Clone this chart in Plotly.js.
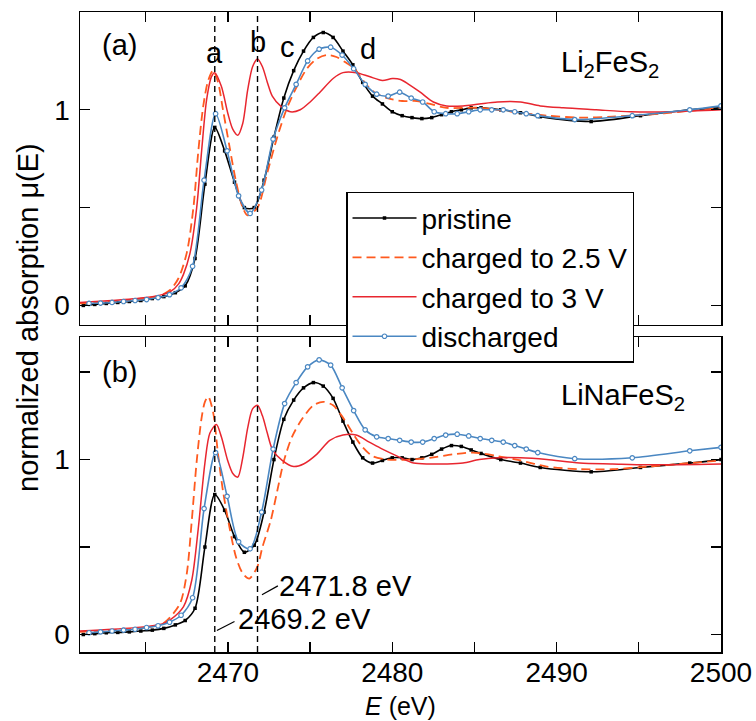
<!DOCTYPE html>
<html>
<head>
<meta charset="utf-8">
<script src="https://cdn.plot.ly/plotly-3.0.1.min.js"></script>
<style>html,body{margin:0;padding:0;background:#fff}#chart{width:756px;height:721px}</style>
</head>
<body>
<div id="chart"></div>
<script>
// ---------- data ----------
const seriesNames = ["pristine", "charged to 2.5 V", "charged to 3 V", "discharged"];
const markerEnergies = [2469.2, 2471.8];           // dashed guide lines a, b
const peakLabels = ["a", "b", "c", "d"];
const peakLabelEnergies = [2469.2, 2471.8, 2473.65, 2478.5];
const xTickVals = [2465, 2470, 2475, 2480, 2485, 2490, 2495, 2500];
const xTickText = ["", "2470", "", "2480", "", "2490", "", "2500"];

// pristine (black squares) energy grid
const E_pristine = [2461.2,2461.9,2462.6,2463.3,2464.0,2464.7,2465.4,2466.1,2466.8,
  2467.4,2468.0,2468.6,2469.2,2469.8,2470.4,2471.0,2471.6,2472.2,2472.8,
  2473.4,2474.0,2474.6,2475.2,2475.8,2476.4,2477.0,2477.6,2478.2,2478.8,
  2479.4,2480.0,2480.6,2481.2,2481.8,2482.4,2483.0,2483.6,2484.2,2484.8,
  2485.4,2486.6,2487.8,2489.0,2492.1,2495.1,2498.1,2500.0];
const mu_a_pristine = [0.0,0.005,0.01,0.015,0.02,0.025,0.035,0.045,0.065,
  0.10,0.24,0.62,0.91,0.79,0.63,0.50,0.50,0.64,0.86,
  1.06,1.20,1.30,1.37,1.395,1.37,1.30,1.23,1.14,1.07,
  1.03,0.99,0.97,0.96,0.955,0.96,0.975,0.99,1.0,1.01,
  1.01,1.0,0.985,0.965,0.94,0.97,1.0,1.01];
const mu_b_pristine = [0.0,0.005,0.01,0.012,0.015,0.02,0.025,0.035,0.055,
  0.08,0.15,0.50,0.80,0.71,0.56,0.47,0.51,0.70,1.0,
  1.23,1.34,1.41,1.44,1.42,1.35,1.22,1.10,1.01,0.98,
  0.995,1.01,1.01,1.0,1.01,1.03,1.06,1.08,1.075,1.055,
  1.035,1.0,0.98,0.955,0.93,0.955,0.98,1.0];

// discharged (blue circles) energy grid
const E_discharged = [2461.55,2462.25,2462.95,2463.65,2464.35,2465.05,2465.75,2466.45,2467.15,2467.85,
  2468.55,2469.25,2469.95,2470.65,2471.35,2472.05,2472.75,2473.45,2474.15,2474.85,
  2475.55,2476.25,2476.95,2477.65,2478.35,2479.05,2479.75,2480.45,2481.15,2481.85,
  2482.55,2483.25,2483.95,2484.65,2485.35,2486.05,2486.75,2487.45,2488.15,2488.85,
  2491.1,2494.6,2498.1,2500.0];
const mu_a_discharged = [0.01,0.012,0.015,0.02,0.025,0.03,0.04,0.055,0.09,0.20,
  0.64,0.98,0.79,0.56,0.47,0.59,0.85,1.01,1.13,1.25,
  1.31,1.32,1.28,1.21,1.13,1.08,1.07,1.09,1.06,1.04,
  0.99,0.98,0.98,0.99,1.0,1.0,1.0,0.99,0.98,0.97,
  0.95,0.97,1.0,1.02];
const mu_b_discharged = [0.01,0.015,0.02,0.025,0.03,0.04,0.05,0.07,0.11,0.21,
  0.72,1.04,0.79,0.53,0.49,0.70,1.06,1.32,1.44,1.53,
  1.57,1.54,1.41,1.28,1.17,1.13,1.12,1.11,1.10,1.10,
  1.12,1.14,1.145,1.135,1.12,1.11,1.10,1.08,1.06,1.04,
  1.005,1.01,1.05,1.07];

// charged to 2.5 V (orange dashed)
const E_a_c25 = [2461.0,2463.0,2465.0,2466.0,2466.5,2467.0,2467.5,2467.9,2468.2,2468.5,2468.8,2469.1,2469.4,2469.7,
  2470.1,2470.5,2470.9,2471.2,2471.8,2472.4,2473.0,2473.6,2474.2,2474.8,2475.4,2476.0,2476.6,2477.2,2477.7,
  2478.3,2478.9,2479.7,2480.6,2481.5,2482.3,2483.3,2485.3,2487.3,2489.4,2491.4,2493.4,2495.5,2497.5,2500.0];
const mu_a_c25 = [0.01,0.02,0.035,0.055,0.08,0.14,0.27,0.50,0.79,1.02,1.15,1.20,1.14,1.00,
  0.81,0.63,0.50,0.46,0.50,0.68,0.86,1.01,1.12,1.21,1.26,1.28,1.27,1.24,1.21,
  1.14,1.09,1.06,1.045,1.045,1.03,1.01,1.01,0.99,0.97,0.96,0.965,0.975,0.99,1.01];
const E_b_c25 = [2461.0,2463.0,2465.0,2466.0,2466.5,2467.1,2467.5,2467.8,2468.1,2468.4,2468.6,2468.8,2469.1,2469.4,
  2469.7,2470.1,2470.5,2470.9,2471.3,2471.8,2472.1,2472.6,2473.0,2473.4,2473.9,2474.5,2475.2,2475.8,2476.4,
  2477.0,2477.6,2478.2,2478.8,2479.7,2481.0,2482.3,2483.7,2484.9,2486.4,2487.8,2489.4,2491.4,2493.4,2495.5,2497.5,2500.0];
const mu_b_c25 = [0.015,0.025,0.04,0.06,0.10,0.18,0.35,0.65,0.99,1.24,1.33,1.36,1.27,1.03,
  0.82,0.61,0.44,0.35,0.32,0.39,0.50,0.65,0.82,0.99,1.13,1.23,1.31,1.33,1.31,
  1.24,1.15,1.07,1.02,1.0,1.0,1.01,1.03,1.04,1.02,0.995,0.96,0.945,0.945,0.96,0.975,0.995];

// charged to 3 V (red solid)
const E_a_c3 = [2461.0,2463.0,2465.0,2466.0,2466.5,2467.0,2467.3,2467.7,2468.1,2468.4,2468.7,2469.0,2469.2,2469.6,
  2470.0,2470.3,2470.6,2470.9,2471.2,2471.5,2471.8,2472.1,2472.4,2472.7,2473.2,2473.8,2474.4,2475.0,2475.6,
  2476.4,2477.0,2477.8,2478.6,2479.4,2480.0,2480.5,2481.0,2481.7,2482.5,2483.3,2484.3,2485.3,2486.4,2487.8,
  2489.0,2490.4,2492.4,2494.5,2497.0,2500.0];
const mu_a_c3 = [0.015,0.025,0.04,0.055,0.07,0.11,0.16,0.27,0.50,0.79,1.05,1.17,1.19,1.12,
  0.98,0.90,0.87,0.93,1.10,1.22,1.26,1.22,1.14,1.07,1.02,0.99,1.0,1.04,1.09,
  1.16,1.19,1.19,1.17,1.15,1.16,1.155,1.13,1.09,1.04,1.02,1.02,1.03,1.04,1.04,
  1.02,1.01,1.0,0.99,0.99,1.0];
const E_b_c3 = [2461.0,2463.0,2465.0,2466.0,2466.5,2467.3,2467.8,2468.2,2468.6,2468.9,2469.3,2469.6,2470.0,2470.3,
  2470.6,2470.9,2471.2,2471.5,2471.8,2472.1,2472.4,2472.7,2473.3,2474.0,2474.6,2475.4,2476.2,2477.0,2477.8,
  2478.6,2479.4,2480.3,2481.3,2482.3,2483.3,2484.3,2485.3,2486.4,2487.8,2489.4,2491.4,2493.4,2495.5,2500.0];
const mu_b_c3 = [0.02,0.03,0.045,0.06,0.085,0.16,0.31,0.61,0.98,1.15,1.20,1.13,0.99,0.92,
  0.90,1.01,1.18,1.29,1.31,1.25,1.15,1.06,0.995,0.96,0.975,1.03,1.11,1.14,1.14,
  1.10,1.06,1.02,0.98,0.975,0.975,0.98,1.0,1.01,1.01,1.0,0.98,0.975,0.97,0.975];

// ---------- styling ----------
const FONT = "Liberation Sans, Arial, Helvetica, sans-serif";
const C_BLACK = "#000000", C_ORANGE = "#ff5a1f", C_RED = "#e8262f", C_BLUE = "#4a87c2";

function mk(E, mu, idx, panel) {
  const xa = panel === "a" ? "x2" : "x";
  const ya = panel === "a" ? "y2" : "y";
  const base = {x: E, y: mu, xaxis: xa, yaxis: ya, name: seriesNames[idx],
    showlegend: panel === "a", legendrank: idx + 1, hoverinfo: "skip"};
  if (idx === 0) return Object.assign(base, {mode: "lines+markers",
    line: {color: C_BLACK, width: 1.6, shape: "spline", smoothing: 0.8},
    marker: {symbol: "square", size: 3.5, color: C_BLACK}});
  if (idx === 1) return Object.assign(base, {mode: "lines",
    line: {color: C_ORANGE, width: 1.8, dash: "9px,5px", shape: "spline", smoothing: 0.8}});
  if (idx === 2) return Object.assign(base, {mode: "lines",
    line: {color: C_RED, width: 1.5, shape: "spline", smoothing: 0.8}});
  return Object.assign(base, {mode: "lines+markers",
    line: {color: C_BLUE, width: 1.6, shape: "spline", smoothing: 0.8},
    marker: {symbol: "circle", size: 4.5, color: "#ffffff", line: {color: C_BLUE, width: 1.2}}});
}

const traces = [
  mk(E_pristine, mu_a_pristine, 0, "a"),
  mk(E_a_c25, mu_a_c25, 1, "a"),
  mk(E_a_c3, mu_a_c3, 2, "a"),
  mk(E_discharged, mu_a_discharged, 3, "a"),
  mk(E_pristine, mu_b_pristine, 0, "b"),
  mk(E_b_c25, mu_b_c25, 1, "b"),
  mk(E_b_c3, mu_b_c3, 2, "b"),
  mk(E_discharged, mu_b_discharged, 3, "b")
];

const axisCommon = {showline: true, linecolor: "#000", linewidth: 1.5, mirror: "allticks",
  ticks: "inside", ticklen: 10, tickwidth: 1.3, tickcolor: "#000", showgrid: false, zeroline: false,
  tickfont: {family: FONT, size: 28, color: "#000"}};

const shapes = [];
markerEnergies.forEach(e => {
  shapes.push({type: "line", xref: "x", yref: "paper", x0: e, x1: e, y0: 0, y1: 1,
    line: {color: "#000", width: 1.4, dash: "6px,4px"}});
});
// leader lines for the energy labels (panel b)
shapes.push({type: "line", xref: "x", yref: "y", x0: markerEnergies[0] + 0.13, y0: 0.023,
  x1: markerEnergies[0] + 1.2, y1: 0.074, line: {color: "#000", width: 1.2}});
shapes.push({type: "line", xref: "x", yref: "y", x0: markerEnergies[1] + 0.27, y0: 0.227,
  x1: markerEnergies[1] + 1.24, y1: 0.278, line: {color: "#000", width: 1.2}});

const tf = (s) => ({family: FONT, size: s, color: "#000"});
const annotations = [
  {xref: "paper", yref: "paper", x: 0.061, y: 0.948, text: "(a)", showarrow: false, font: tf(29), xanchor: "center", yanchor: "middle"},
  {xref: "paper", yref: "paper", x: 0.062, y: 0.4375, text: "(b)", showarrow: false, font: tf(29), xanchor: "center", yanchor: "middle"},
  {xref: "paper", yref: "paper", x: 0.748, y: 0.918, text: "Li<sub>2</sub>FeS<sub>2</sub>", showarrow: false, font: tf(29), xanchor: "left", yanchor: "middle"},
  {xref: "paper", yref: "paper", x: 0.748, y: 0.398, text: "LiNaFeS<sub>2</sub>", showarrow: false, font: tf(29), xanchor: "left", yanchor: "middle"},
  {xref: "x", yref: "y", x: markerEnergies[1] + 1.2, y: 0.28, text: markerEnergies[1].toFixed(1) + " eV", showarrow: false, font: tf(29), xanchor: "left", yanchor: "middle"},
  {xref: "x", yref: "y", x: markerEnergies[0] + 1.3, y: 0.09, text: markerEnergies[0].toFixed(1) + " eV", showarrow: false, font: tf(29), xanchor: "left", yanchor: "middle"},
  {xref: "paper", yref: "paper", x: -0.081, y: 0.522, text: "normalized absorption μ(E)", textangle: -90, showarrow: false, font: tf(29), xanchor: "center", yanchor: "middle"},
  {xref: "paper", yref: "paper", x: 0.5, y: -0.084, text: "<i>E</i> (eV)", showarrow: false, font: tf(25), xanchor: "center", yanchor: "middle"}
];
const peakY = [0.936, 0.953, 0.945, 0.942];
peakLabels.forEach((t, i) => annotations.push({xref: "x", yref: "paper", x: peakLabelEnergies[i], y: peakY[i],
  text: t, showarrow: false, font: tf(29), xanchor: "center", yanchor: "middle"}));

const layout = {
  width: 756, height: 721,
  margin: {l: 80, r: 35, t: 12, b: 69, pad: 0},
  paper_bgcolor: "#fff", plot_bgcolor: "#fff",
  font: {family: FONT, color: "#000"},
  showlegend: true,
  legend: {x: 0.415, y: 0.719, xanchor: "left", yanchor: "top", bgcolor: "#fff",
    bordercolor: "#000", borderwidth: 1.5, font: tf(28), tracegroupgap: 0, itemwidth: 64},
  xaxis: Object.assign({}, axisCommon, {domain: [0, 1], anchor: "y", range: [2461, 2500],
    tickmode: "array", tickvals: xTickVals, ticktext: xTickText, ticklabelstandoff: -5}),
  xaxis2: Object.assign({}, axisCommon, {domain: [0, 1], anchor: "y2", matches: "x", range: [2461, 2500],
    tickmode: "array", tickvals: xTickVals, showticklabels: false}),
  yaxis: Object.assign({}, axisCommon, {domain: [0, 0.492], anchor: "x", range: [-0.1, 1.7],
    tickmode: "array", tickvals: [0, 0.5, 1, 1.5], ticktext: ["0", "", "1", ""], ticklabelstandoff: 3}),
  yaxis2: Object.assign({}, axisCommon, {domain: [0.511, 1], anchor: "x2", range: [-0.1, 1.5],
    tickmode: "array", tickvals: [0, 0.5, 1], ticktext: ["0", "", "1"], ticklabelstandoff: 3}),
  shapes: shapes,
  annotations: annotations
};

Plotly.newPlot("chart", traces, layout, {displayModeBar: false, staticPlot: true});
</script>
</body>
</html>
